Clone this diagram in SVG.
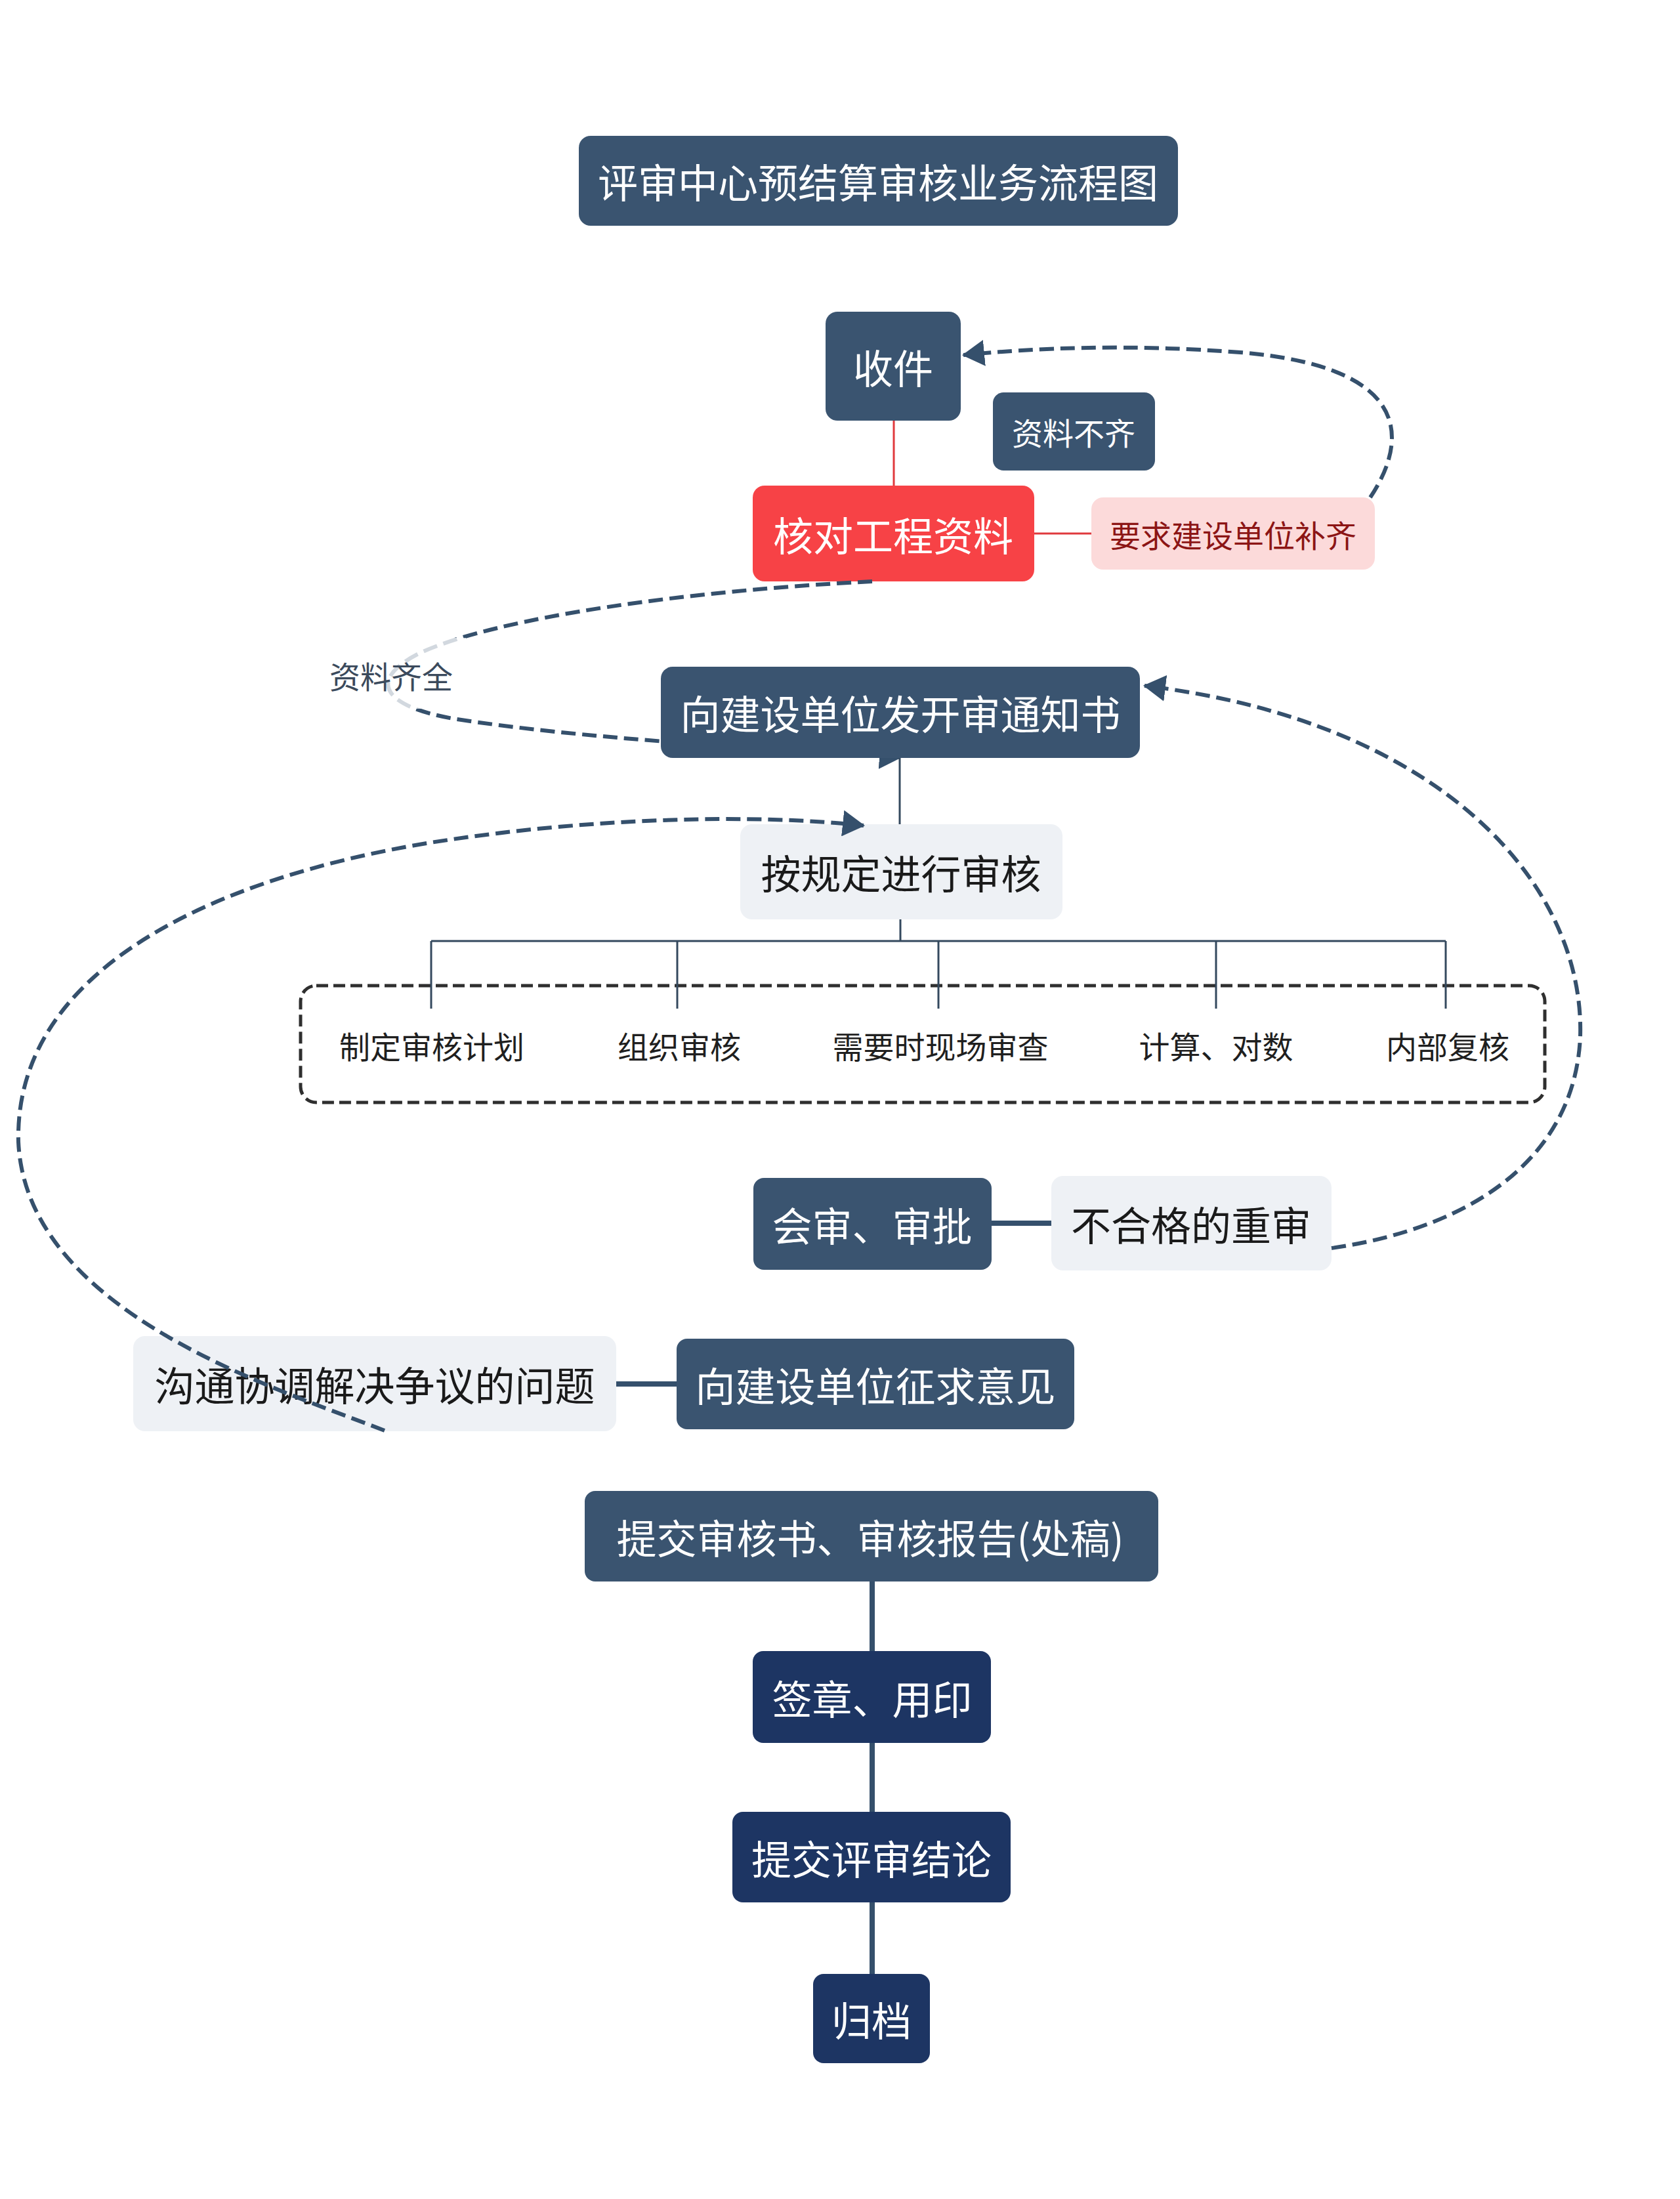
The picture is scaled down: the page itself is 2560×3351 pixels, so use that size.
<svg xmlns="http://www.w3.org/2000/svg" width="2560" height="3351" viewBox="0 0 2560 3351">
<style>
  text { font-family: "Noto Sans CJK SC", "Noto Sans", sans-serif; text-anchor: middle; dominant-baseline: central; }
  .dark { fill: #3a5470; }
  .navy { fill: #1d3563; }
  .light { fill: #eef1f5; }
  .wt { fill: #ffffff; font-size: 61px; }
  .bt { fill: #1a1a1a; font-size: 61px; }
  .st { fill: #1f1f1f; font-size: 47px; }
  .dash { fill: none; stroke: #35506c; stroke-width: 6; stroke-dasharray: 22 10; }
  .thin { fill: none; stroke: #34495e; stroke-width: 3; }
  .thick { fill: none; stroke: #35506c; stroke-width: 8; }
  .red { fill: none; stroke: #e0393d; stroke-width: 3; }
</style>
<defs>
  <marker id="arr" viewBox="0 0 34 40" refX="32" refY="20" markerWidth="34" markerHeight="40" markerUnits="userSpaceOnUse" orient="auto">
    <path d="M0,0 L34,20 L0,40 Z" fill="#35506c" stroke="none"/>
  </marker>
</defs>
<rect x="0" y="0" width="2560" height="3351" fill="#ffffff"/>

<g id="node-title">
  <rect class="dark" x="882" y="207" width="913" height="137" rx="18"/>
  <text class="wt" x="1338" y="275">评审中心预结算审核业务流程图</text>
</g>
<g id="node-shoujian">
  <rect class="dark" x="1258" y="475" width="206" height="166" rx="18"/>
  <text class="wt" x="1361" y="558">收件</text>
</g>
<g id="node-ziliaobuqi">
  <rect class="dark" x="1513" y="598" width="247" height="119" rx="16"/>
  <text class="wt" x="1636" y="657" style="font-size:47px">资料不齐</text>
</g>
<g id="node-hedui">
  <rect x="1147" y="740" width="429" height="146" rx="18" fill="#f74246"/>
  <text class="wt" x="1361" y="813">核对工程资料</text>
</g>
<g id="node-yaoqiu">
  <rect x="1663" y="758" width="432" height="110" rx="18" fill="#fcdada"/>
  <text x="1879" y="813" style="font-size:47px" fill="#8c1515">要求建设单位补齐</text>
</g>
<g id="node-anguiding">
  <rect class="light" x="1128" y="1256" width="491" height="145" rx="18"/>
  <text class="bt" x="1373" y="1328">按规定进行审核</text>
</g>
<g id="node-group-box">
  <rect x="458" y="1502" width="1896" height="178" rx="24" fill="none" stroke="#2f2f2f" stroke-width="5" stroke-dasharray="18 8"/>
</g>
<g id="node-zhiding"><text class="st" x="658" y="1592">制定审核计划</text></g>
<g id="node-zuzhi"><text class="st" x="1035" y="1592">组织审核</text></g>
<g id="node-xuyao"><text class="st" x="1433" y="1592">需要时现场审查</text></g>
<g id="node-jisuan"><text class="st" x="1853" y="1592">计算、对数</text></g>
<g id="node-neibu"><text class="st" x="2206" y="1592">内部复核</text></g>
<g id="node-huishen">
  <rect class="dark" x="1148" y="1795" width="363" height="140" rx="16"/>
  <text class="wt" x="1329" y="1865">会审、审批</text>
</g>
<g id="node-buhege">
  <rect class="light" x="1602" y="1792" width="427" height="144" rx="18"/>
  <text class="bt" x="1815" y="1864">不合格的重审</text>
</g>
<g id="node-goutong">
  <rect class="light" x="203" y="2036" width="736" height="145" rx="18"/>
  <text class="bt" x="571" y="2108">沟通协调解决争议的问题</text>
</g>
<g id="node-zhengqiu">
  <rect class="dark" x="1031" y="2040" width="606" height="138" rx="16"/>
  <text class="wt" x="1334" y="2109">向建设单位征求意见</text>
</g>
<g id="node-tijiao-shenheshu">
  <rect class="dark" x="891" y="2272" width="874" height="138" rx="16"/>
  <text class="wt" x="1326" y="2341">提交审核书、审核报告(处稿)</text>
</g>
<g id="node-qianzhang">
  <rect class="navy" x="1147" y="2516" width="363" height="140" rx="16"/>
  <text class="wt" x="1329" y="2586">签章、用印</text>
</g>
<g id="node-tijiao-jielun">
  <rect class="navy" x="1116" y="2761" width="424" height="138" rx="16"/>
  <text class="wt" x="1328" y="2830">提交评审结论</text>
</g>
<g id="node-guidang">
  <rect class="navy" x="1239" y="3008" width="178" height="136" rx="16"/>
  <text class="wt" x="1328" y="3076">归档</text>
</g>

<g id="connectors">
  <line class="red" x1="1362" y1="641" x2="1362" y2="740"/>
  <line class="red" x1="1576" y1="813" x2="1663" y2="813"/>
  <path class="dash" d="M2088,758 C2140,680 2165,560 1890,537 C1720,524 1580,530 1468,541" marker-end="url(#arr)"/>
  <path class="dash" d="M1329,886 C1050,900 760,940 640,995 C560,1035 580,1075 690,1095 C880,1125 1150,1140 1372,1154" marker-end="url(#arr)"/>
  <rect x="492" y="972" width="218" height="108" fill="#ffffff" fill-opacity="0.78"/>
  <text x="596" y="1028" style="font-size:47px" fill="#3b4a5c">资料齐全</text>
  <line class="thin" x1="1371" y1="1155" x2="1371" y2="1256"/>
  <line class="thin" x1="1372" y1="1401" x2="1372" y2="1434"/>
  <line class="thin" x1="657" y1="1434" x2="2203" y2="1434"/>
  <line class="thin" x1="657" y1="1434" x2="657" y2="1537"/>
  <line class="thin" x1="1032" y1="1434" x2="1032" y2="1537"/>
  <line class="thin" x1="1430" y1="1434" x2="1430" y2="1537"/>
  <line class="thin" x1="1853" y1="1434" x2="1853" y2="1537"/>
  <line class="thin" x1="2203" y1="1434" x2="2203" y2="1537"/>
  <line class="thick" x1="1511" y1="1864" x2="1602" y2="1864"/>
  <path class="dash" d="M2029,1902 C2250,1870 2400,1760 2408,1580 C2415,1350 2200,1100 1744,1045" marker-end="url(#arr)"/>
  <line class="thick" x1="939" y1="2109" x2="1031" y2="2109"/>
  <path class="dash" d="M586,2180 C420,2115 40,2000 28,1740 C22,1480 320,1340 650,1285 C900,1245 1150,1240 1316,1258" marker-end="url(#arr)"/>
  <line class="thick" x1="1329" y1="2410" x2="1329" y2="2516"/>
  <line class="thick" x1="1329" y1="2656" x2="1329" y2="2761"/>
  <line class="thick" x1="1329" y1="2899" x2="1329" y2="3008"/>
</g>

<g id="node-xiangjianshe-tongzhi">
  <rect class="dark" x="1007" y="1016" width="730" height="139" rx="18"/>
  <text class="wt" x="1372" y="1085">向建设单位发开审通知书</text>
</g>
</svg>
